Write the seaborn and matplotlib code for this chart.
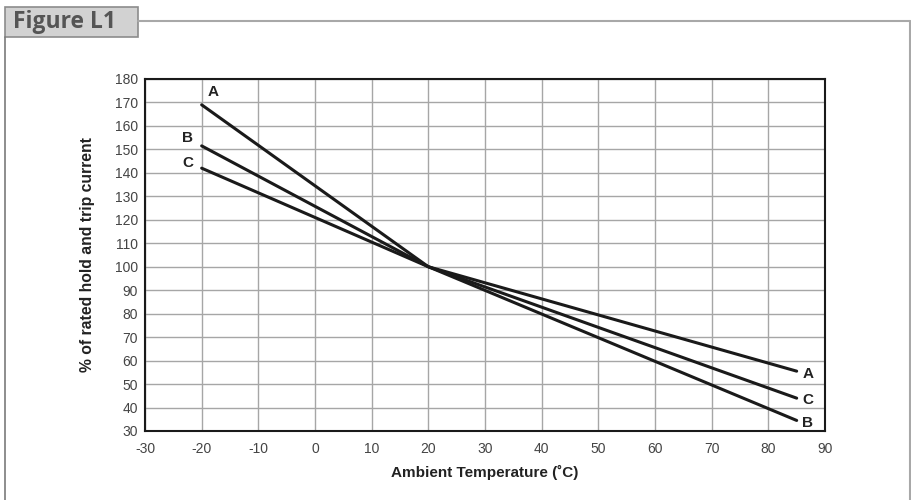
import pandas as pd
import matplotlib.pyplot as plt
import seaborn as sns
from matplotlib.patches import Rectangle
from matplotlib.lines import Line2D

# Values
temps = [-20, 20, 85]
curve_1 = [169, 100, 34.5]   # steepest line
curve_2 = [151.5, 100, 44]
curve_3 = [142, 100, 55.5]   # flattest line
left_labels = ["A", "B", "C"]
right_labels = ["B", "C", "A"]
x_ticks = list(range(-30, 91, 10))
y_ticks = list(range(30, 181, 10))

rows = []
for name, vals in zip(["c1", "c2", "c3"], [curve_1, curve_2, curve_3]):
    for t, v in zip(temps, vals):
        rows.append({"curve": name, "temp": t, "pct": v})
df = pd.DataFrame(rows)

sns.set_style("white")
plt.rcParams["font.family"] = ["Liberation Sans", "DejaVu Sans"]
plt.rcParams["axes.unicode_minus"] = False

fig = plt.figure(figsize=(9.12, 5), dpi=100)
ax = fig.add_axes([145 / 912, 69 / 500, 680 / 912, 352 / 500])

sns.lineplot(data=df, x="temp", y="pct", units="curve", estimator=None,
             color="#1a1a1a", linewidth=2.2, ax=ax, legend=False)

ax.set_xlim(-30, 90)
ax.set_ylim(30, 180)
ax.set_xticks(x_ticks)
ax.set_yticks(y_ticks)
ax.grid(True, color="#a6a6a6", linewidth=1.0)
ax.set_axisbelow(True)
ax.tick_params(length=0, labelsize=10, labelcolor="#444444")
ax.tick_params(axis="x", pad=8)
ax.tick_params(axis="y", pad=5)
for s in ax.spines.values():
    s.set_color("#1a1a1a")
    s.set_linewidth(1.5)

ax.set_xlabel("Ambient Temperature (˚C)", fontsize=11, fontweight="bold",
              color="#222222", labelpad=6)
ax.set_ylabel("% of rated hold and trip current", fontsize=11.3,
              fontweight="bold", color="#222222", labelpad=14)

# line end labels
lab_kw = dict(fontsize=11, fontweight="bold", color="#222222", va="center")
ax.text(-19, 174.5, left_labels[0], ha="left", **lab_kw)
ax.text(-21.5, 155, left_labels[1], ha="right", **lab_kw)
ax.text(-21.5, 144, left_labels[2], ha="right", **lab_kw)
for lab, v in zip(right_labels, [curve_1[-1], curve_2[-1], curve_3[-1]]):
    ax.text(86, v - 1, lab, ha="left", **lab_kw)

# figure frame and title box
frame_col = "#a8a8a8"
fig.add_artist(Line2D([138 / 912, 910 / 912], [1 - 21 / 500, 1 - 21 / 500],
                      color=frame_col, linewidth=1.5))
fig.add_artist(Line2D([910 / 912, 910 / 912], [1 - 21 / 500, 0],
                      color=frame_col, linewidth=1.5))
fig.add_artist(Line2D([5 / 912, 5 / 912], [1 - 37 / 500, 0],
                      color="#7a7a7a", linewidth=1.2))
fig.add_artist(Rectangle((5 / 912, 1 - 37 / 500), 133 / 912, 30 / 500,
                         facecolor="#d2d2d2", edgecolor="#8c8c8c",
                         linewidth=1.2, transform=fig.transFigure))
fig.text(13 / 912, 1 - 22.5 / 500, "Figure L1", fontsize=16.5, fontweight="bold",
         color="#555555", va="center", ha="left",
         family=["Open Sans", "DejaVu Sans"])

fig.savefig("out.png", dpi=100)
